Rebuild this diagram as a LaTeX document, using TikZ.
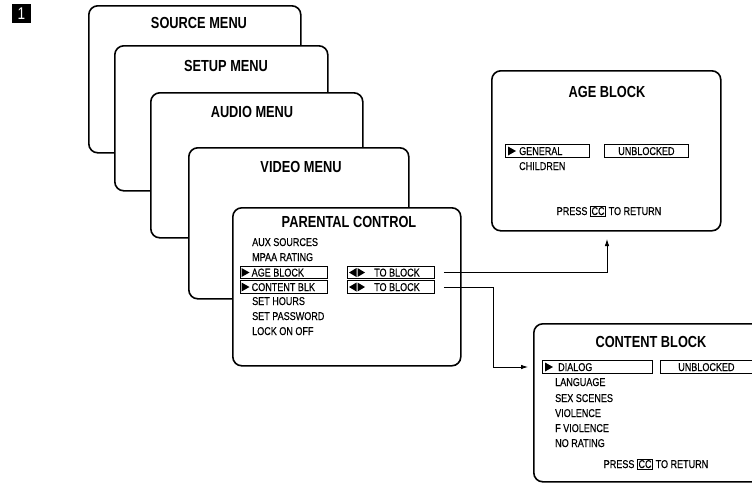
\documentclass[tikz,border=0pt]{standalone}
\usepackage{fontspec}
\setmainfont{Liberation Sans}[FakeStretch=0.8]
\newfontfamily\itmfont{Liberation Sans}[FakeStretch=0.8, FakeBold=0.35]
\usetikzlibrary{arrows.meta,calc}
\newcommand{\mycc}{{\setlength{\fboxsep}{0.9pt}\setlength{\fboxrule}{0.7pt}\fbox{CC}}}
\begin{document}
\begin{tikzpicture}[x=1pt,y=-1pt,
 menubox/.style={draw, line width=1.6pt, rounded corners=9pt, fill=white, anchor=north west, inner sep=0},
 ttl/.style={font=\bfseries\fontsize{16}{16}\selectfont, inner sep=0, text height=11.5pt, text depth=0pt},
 itm/.style={font=\itmfont\fontsize{11.3}{11.3}\selectfont, anchor=west, inner sep=0, text height=8pt, text depth=0pt},
 ctr/.style={font=\itmfont\fontsize{11.3}{11.3}\selectfont, inner sep=0, text height=8pt, text depth=0pt},
 selbox/.style={draw, line width=0.8pt, inner sep=0, minimum height=12.5pt, anchor=west},
 conn/.style={line width=0.8pt},
 arr/.style={conn, -{Latex[length=7pt,width=4.5pt]}}
]
\useasboundingbox (0,0) rectangle (752,482);
\clip (0,0) rectangle (752,482);

% number tag
\node[fill=black, text=white, minimum size=19pt, inner sep=0, font=\fontsize{17}{17}\selectfont] (num) at (21.5,13.5) {1};

% stacked menus
\node[menubox, minimum width=212pt, minimum height=147pt] (source) at (88,5) {};
\node[ttl] (sourcet) at (199,23) {SOURCE MENU};
\node[menubox, minimum width=213pt, minimum height=145pt] (setup) at (114,45) {};
\node[ttl] (setupt) at (226,66) {SETUP MENU};
\node[menubox, minimum width=212pt, minimum height=145pt] (audio) at (150,92) {};
\node[ttl] (audiot) at (252,112) {AUDIO MENU};
\node[menubox, minimum width=220pt, minimum height=151pt] (video) at (188,147) {};
\node[ttl] (videot) at (301,167) {VIDEO MENU};
\node[menubox, minimum width=228pt, minimum height=158pt] (parental) at (232,207) {};
\node[ttl] (parentalt) at (349,222) {PARENTAL CONTROL};

% parental items
\node[itm] (aux) at (252,242) {AUX SOURCES};
\node[itm] (mpaa) at (252,257) {MPAA RATING};
\node[selbox, minimum width=87pt] (agesel) at (240,272.5) {};
\fill ($(agesel.west)+(1.5,-4.5)$) -- ++(8,4.5) -- ++(-8,4.5) -- cycle;
\node[itm] (agei) at (251.5,272.5) {AGE BLOCK};
\node[selbox, minimum width=87pt] (contsel) at (240,287) {};
\fill ($(contsel.west)+(1.5,-4.5)$) -- ++(8,4.5) -- ++(-8,4.5) -- cycle;
\node[itm] (conti) at (251.5,287) {CONTENT BLK};
\node[itm] (hours) at (252,301) {SET HOURS};
\node[itm] (pass) at (252,316) {SET PASSWORD};
\node[itm] (lock) at (252,331) {LOCK ON OFF};

\node[selbox, minimum width=87pt] (tb1) at (347,272.5) {};
\fill ($(tb1.west)+(2,0)$) -- ++(7.5,-4.5) -- ++(0,9) -- cycle;
\fill ($(tb1.west)+(10.5,-4.5)$) -- ++(7.5,4.5) -- ++(-7.5,4.5) -- cycle;
\node[itm] (tb1t) at (374,272.5) {TO BLOCK};
\node[selbox, minimum width=87pt] (tb2) at (347,287) {};
\fill ($(tb2.west)+(2,0)$) -- ++(7.5,-4.5) -- ++(0,9) -- cycle;
\fill ($(tb2.west)+(10.5,-4.5)$) -- ++(7.5,4.5) -- ++(-7.5,4.5) -- cycle;
\node[itm] (tb2t) at (374,287) {TO BLOCK};

% age block screen
\node[menubox, minimum width=229pt, minimum height=160pt] (agebox) at (491,70) {};
\node[ttl] (ageboxt) at (607,92) {AGE BLOCK};
\node[selbox, minimum width=84pt] (gensel) at (505,151) {};
\fill ($(gensel.west)+(3,-4.5)$) -- ++(8,4.5) -- ++(-8,4.5) -- cycle;
\node[itm] (gen) at (519,151) {GENERAL};
\node[selbox, minimum width=84pt] (unbl1) at (604,151) {};
\node[ctr] (unbl1t) at (unbl1.center) {UNBLOCKED};
\node[itm] (child) at (519,166) {CHILDREN};
\node[ctr] (press1) at (609,211) {PRESS \mycc{} TO RETURN};

% content block screen
\node[menubox, minimum width=237pt, minimum height=158pt] (contbox) at (533,323) {};
\node[ttl] (contboxt) at (651,342) {CONTENT BLOCK};
\node[selbox, minimum width=110pt] (dialsel) at (542,367) {};
\fill ($(dialsel.west)+(3,-4.5)$) -- ++(8,4.5) -- ++(-8,4.5) -- cycle;
\node[itm] (dial) at (558,367) {DIALOG};
\node[selbox, minimum width=92pt] (unbl2) at (660,367) {};
\node[ctr] (unbl2t) at (unbl2.center) {UNBLOCKED};
\node[itm] (lang) at (555,382) {LANGUAGE};
\node[itm] (sex) at (555,398) {SEX SCENES};
\node[itm] (viol) at (555,413) {VIOLENCE};
\node[itm] (fviol) at (555,428) {F VIOLENCE};
\node[itm] (norat) at (555,443) {NO RATING};
\node[ctr] (press2) at (656,464) {PRESS \mycc{} TO RETURN};

% connectors
\coordinate (c1s) at ($(tb1.east)+(9,0)$);
\coordinate (agetip) at (607,239);
\draw[arr] (c1s) -| (agetip);
\coordinate (c2s) at ($(tb2.east)+(9,0)$);
\coordinate (c2m) at (493,287);
\coordinate (conttip) at (528,367);
\draw[arr] (c2s) -- (c2m) |- (conttip);
\end{tikzpicture}
\end{document}
